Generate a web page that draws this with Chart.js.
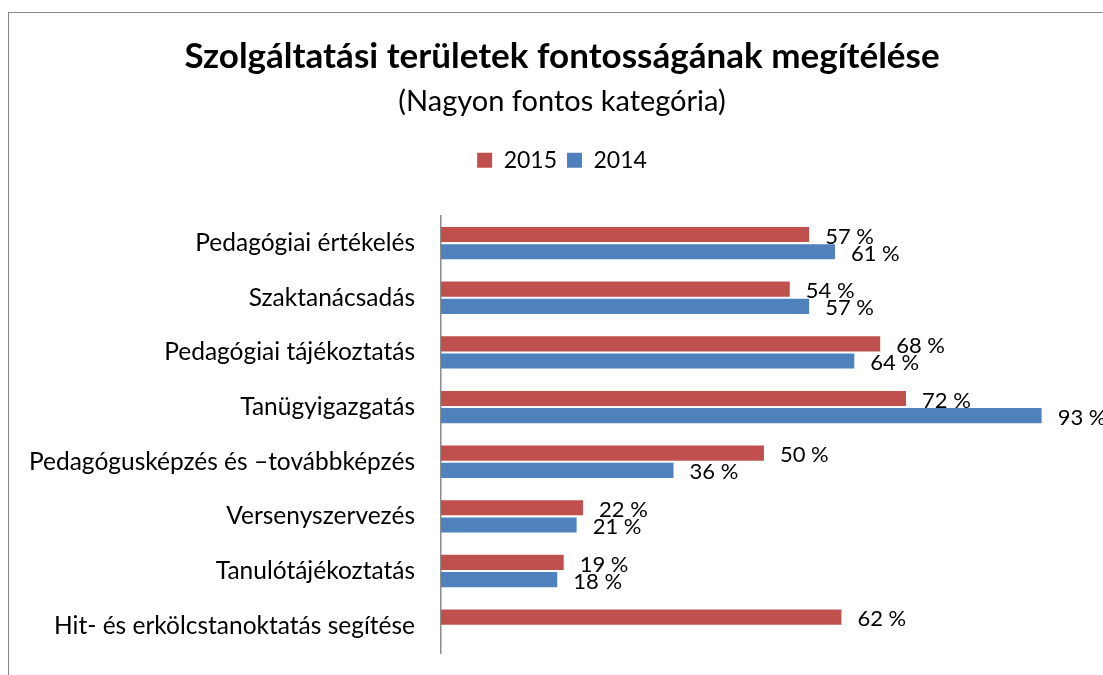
<!DOCTYPE html>
<html>
<head>
<meta charset="utf-8">
<script src="https://cdn.jsdelivr.net/npm/chart.js@4/dist/chart.umd.min.js"></script>
<style>
  html, body { margin: 0; padding: 0; background: #fff; overflow: hidden; }
  #frame {
    position: absolute; left: 8px; top: 12px; width: 2000px; height: 2000px;
    border-left: 1px solid #878787; border-top: 1px solid #878787;
  }
  #chart { position: absolute; left: 0; top: 0; display: block; }
</style>
</head>
<body>
<div id="frame"></div>
<canvas id="chart" width="1103" height="675"></canvas>
<script>
// data
const categories = [
  "Pedagógiai értékelés",
  "Szaktanácsadás",
  "Pedagógiai tájékoztatás",
  "Tanügyigazgatás",
  "Pedagógusképzés és –továbbképzés",
  "Versenyszervezés",
  "Tanulótájékoztatás",
  "Hit- és erkölcstanoktatás segítése",
];
const values2015 = [57, 54, 68, 72, 50, 22, 19, 62];
const values2014 = [61, 57, 64, 93, 36, 21, 18, null];

const FONT = "Lato, 'DejaVu Sans', sans-serif";

// value labels at the end of each bar
const barLabels = {
  id: "barLabels",
  afterDatasetsDraw(chart) {
    const ctx = chart.ctx;
    ctx.save();
    ctx.font = "22px " + FONT;
    ctx.fillStyle = "#000";
    ctx.textAlign = "left";
    ctx.textBaseline = "middle";
    chart.data.datasets.forEach((ds, i) => {
      const meta = chart.getDatasetMeta(i);
      meta.data.forEach((bar, j) => {
        const v = ds.data[j];
        if (v === null || v === undefined) return;
        ctx.fillText(v + " %", bar.x + 16, bar.y + 2);
      });
    });
    ctx.restore();
  },
};

const ctx = document.getElementById("chart").getContext("2d");
new Chart(ctx, {
  type: "bar",
  data: {
    labels: categories,
    datasets: [
      {
        label: "2015",
        data: values2015,
        backgroundColor: "#C0504D",
        barPercentage: 0.88,
        categoryPercentage: 0.63,
      },
      {
        label: "2014",
        data: values2014,
        backgroundColor: "#4F81BD",
        barPercentage: 0.88,
        categoryPercentage: 0.63,
      },
    ],
  },
  options: {
    indexAxis: "y",
    responsive: false,
    animation: false,
    layout: {
      // header is centred a little right of the canvas middle, as in the original
      padding: { left: 4, right: -17, top: 0, bottom: 22 },
    },
    plugins: {
      title: {
        display: true,
        text: "Szolgáltatási területek fontosságának megítélése",
        color: "#000",
        font: { family: FONT, size: 35, weight: "bold" },
        padding: { top: 36, bottom: 6 },
      },
      subtitle: {
        display: true,
        text: "(Nagyon fontos kategória)",
        color: "#000",
        font: { family: FONT, size: 29 },
        padding: { top: 0, bottom: 20 },
      },
      legend: {
        position: "top",
        labels: {
          color: "#000",
          font: { family: FONT, size: 23 },
          boxWidth: 15,
          boxHeight: 15,
          padding: 10,
        },
      },
      tooltip: { enabled: false },
    },
    scales: {
      x: {
        position: "top",
        min: 0,
        max: 102.5,
        ticks: { display: false },
        grid: { display: false, drawTicks: false },
        border: { display: false },
        afterFit(scale) {
          scale.height = 34;
        },
      },
      y: {
        ticks: {
          color: "#000",
          font: { family: FONT, size: 24.5 },
          padding: 26,
        },
        grid: { display: false, drawTicks: false },
        border: { display: true, color: "#8c8c8c", width: 1.5 },
        afterFit(scale) {
          scale.width = 437;
          // tick padding should not push the plot area up from the bottom
          scale.paddingTop = 0;
          scale.paddingBottom = 0;
        },
      },
    },
  },
  plugins: [barLabels],
});
</script>
</body>
</html>
